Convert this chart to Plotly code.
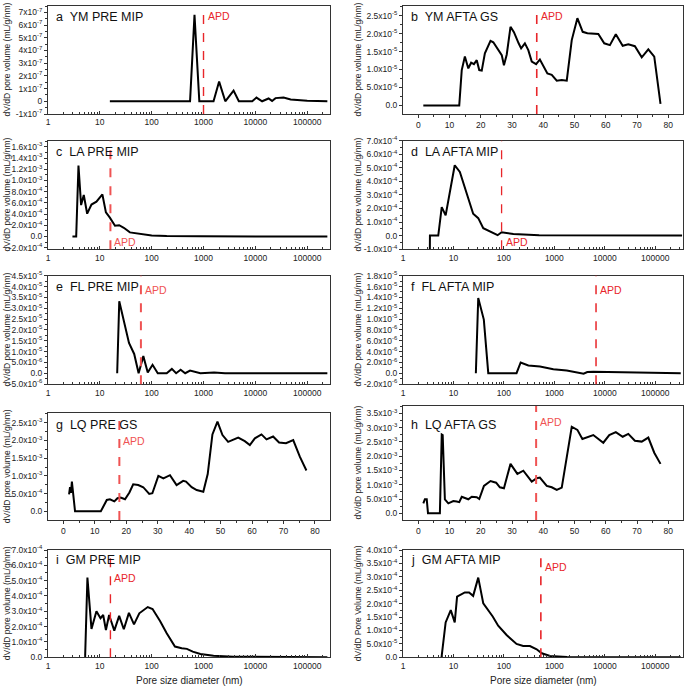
import re
import math
import plotly.graph_objects as go

# ---------------- data ----------------
titles = ["a\u00a0 YM PRE MIP", "b\u00a0 YM AFTA GS", "c\u00a0 LA PRE MIP", "d\u00a0 LA AFTA MIP",
          "e\u00a0 FL PRE MIP", "f\u00a0 FL AFTA MIP", "g\u00a0 LQ PRE GS", "h\u00a0 LQ AFTA GS",
          "i\u00a0 GM PRE MIP", "j\u00a0 GM AFTA MIP"]
ytitles = ["dV/dD pore volume (mL/g/nm)"] * 9 + ["dV/dD Pore Volume (mL/g/nm)"]
xtitle = "Pore size diameter (nm)"

a_x = [15.6, 550, 670, 830, 1560, 2000, 2630, 3800, 4800, 8700, 10500, 13500, 18000,
       21000, 24500, 35000, 48000, 100000, 245000]
a_y = [0, 0, 6.8e-7, 0, 0, 1.55e-7, 0, 0.84e-7, 0, 0, 0.29e-7, 0, 0.22e-7,
       0.03e-7, 0.25e-7, 0.3e-7, 0.15e-7, 0.05e-7, 0]

b_x = [1.6, 13.1, 13.9, 14.9, 16.0, 16.9, 17.8, 18.7, 19.5, 20.3, 21.3, 23.1, 24.0, 25.6,
       26.7, 27.4, 28.3, 29.5, 30.6, 32.1, 32.9, 34.1, 35.2, 36.3, 37.7, 38.9, 40.0, 41.3,
       42.7, 44.3, 45.9, 47.5, 49.1, 50.9, 52.6, 54.1, 57.6, 59.5, 61.3, 63.2, 65.4, 67.2,
       69.3, 71.5, 73.6, 75.5, 77.5]
b_y = [0, 0, 9.85e-6, 13.6e-6, 10.3e-6, 11.9e-6, 11.5e-6, 12.6e-6, 9.85e-6, 9.7e-6,
       14.5e-6, 18.0e-6, 17.6e-6, 15.4e-6, 14.0e-6, 11.2e-6, 14.2e-6, 21.9e-6, 20.4e-6,
       17.3e-6, 15.9e-6, 17.3e-6, 15.4e-6, 12.2e-6, 11.5e-6, 12.8e-6, 11.2e-6, 8.9e-6,
       8.5e-6, 6.9e-6, 7.1e-6, 6.9e-6, 18.2e-6, 24.3e-6, 20.5e-6, 20.1e-6, 19.9e-6,
       17.3e-6, 16.8e-6, 19.8e-6, 16.6e-6, 17.0e-6, 16.5e-6, 13.4e-6, 15.6e-6, 13.6e-6,
       0.4e-6]

c_x = [2.96, 3.5, 3.87, 4.35, 4.9, 5.7, 6.9, 8.6, 11.2, 13.1, 15.6, 19.6, 23.6, 29, 38,
       59, 100, 195, 870, 245000]
c_y = [0, 0, 12.66e-4, 5.6e-4, 7.4e-4, 4.06e-4, 5.7e-4, 6.2e-4, 7.5e-4, 4.3e-4, 3.35e-4,
       1.9e-4, 2.0e-4, 1.55e-4, 0.72e-4, 0.42e-4, 0.18e-4, 0.06e-4, 0.01e-4, 0]

d_x = [3.38, 3.42, 5.0, 5.86, 7.0, 10.6, 13.4, 24.6, 31, 39, 75, 90, 154, 500, 340000]
d_y = [-3e-4, 0, 0, 2.1e-4, 1.49e-4, 5.19e-4, 4.69e-4, 1.61e-4, 1.29e-4, 0.55e-4,
       0.03e-4, 0.25e-4, 0.12e-4, 0.03e-4, 0]

e_x = [21.6, 23.7, 36.5, 46, 56, 69, 84, 104, 131, 195, 245, 296, 362, 443, 550, 870,
       1600, 2600, 245000]
e_y = [0, 33.2e-6, 14e-6, 8.9e-6, 0, 7.9e-6, 0.3e-6, 3.9e-6, 0, 0, 2.0e-6, 0, 1.6e-6, 0,
       1.2e-6, 0, 0.3e-6, 0.05e-6, 0]

f_x = [27.8, 31, 40, 49, 178, 215, 305, 519, 955, 1760, 3800, 4500, 5900, 23000, 320000]
f_y = [0, 13.9e-6, 9.9e-6, 0, 0, 1.98e-6, 1.42e-6, 1.24e-6, 0.74e-6, 0.5e-6, -0.1e-6,
       0.2e-6, 0.25e-6, 0.12e-6, 0]

g_x = [1.8, 2.1, 2.4, 2.7, 3.7, 11.9, 13.8, 14.8, 16.2, 17.2, 18.2, 19.6, 21, 22.2, 23.8,
       25.4, 27.3, 28.3, 30.2, 31.8, 33.9, 36, 38.1, 39, 40.8, 42.4, 44.5, 45.9, 47.4, 49,
       50.6, 52.4, 55.6, 57.7, 59.3, 60.9, 63, 64.6, 66.7, 68.6, 70.8, 73.1, 75.2, 77.3]
g_y = [4.8e-4, 6.8e-4, 5.2e-4, 8.4e-4, 0, 0, 3.2e-4, 3.4e-4, 2.8e-4, 3.7e-4, 3.9e-4,
       3.4e-4, 5.3e-4, 7.6e-4, 7.4e-4, 6.8e-4, 4.9e-4, 5.1e-4, 10.0e-4, 9.3e-4, 10.2e-4,
       7.4e-4, 8.6e-4, 8.4e-4, 6.8e-4, 6.0e-4, 5.5e-4, 10.5e-4, 21.7e-4, 25.3e-4, 21.5e-4,
       19.6e-4, 20.8e-4, 19.8e-4, 18.7e-4, 20.6e-4, 21.7e-4, 20.3e-4, 21.1e-4, 19.4e-4,
       19.2e-4, 20.1e-4, 15.4e-4, 11.5e-4]

h_x = [1.6, 2.1, 2.7, 3.1, 6.9, 7.5, 7.8, 8.5, 9.6, 11.2, 12.3, 13.1, 13.9, 14.9, 16, 17.1,
       18.7, 19.5, 21, 23.1, 24.9, 26.1, 27.4, 29.5, 31.7, 33.6, 36.3, 37.9, 38.9, 41.1,
       42.7, 44.3, 45.9, 49.1, 50.9, 52.5, 56, 59.2, 61.1, 63.2, 65.4, 67.2, 69.3, 71.5,
       73.6, 75.5, 77.5]
h_y = [3.5e-4, 4.9e-4, 4.9e-4, 0, 0, 27.6e-4, 27.4e-4, 4.9e-4, 3.5e-4, 4.3e-4, 4.1e-4,
       3.9e-4, 5.8e-4, 5.3e-4, 4.9e-4, 5.8e-4, 5.6e-4, 5.0e-4, 9.6e-4, 11.3e-4, 10.7e-4,
       9.1e-4, 8.75e-4, 17.3e-4, 13.8e-4, 14.9e-4, 11.1e-4, 12.3e-4, 12.5e-4, 9.6e-4,
       9.1e-4, 8.2e-4, 9.0e-4, 30.3e-4, 29.2e-4, 26.0e-4, 27.4e-4, 24.7e-4, 27.4e-4,
       28.4e-4, 26.8e-4, 27.8e-4, 25.4e-4, 25.1e-4, 26.5e-4, 21.2e-4, 17.3e-4]

i_x = [5.0, 5.2, 5.76, 6.9, 8.6, 10.3, 11.6, 13.1, 15.1, 19, 23.6, 29, 36.4, 45.6, 57.7,
       84, 104, 145, 195, 281, 380, 478, 620, 870, 1560, 3800, 245000]
i_y = [0, 0, 5.2e-4, 1.85e-4, 3.0e-4, 2.55e-4, 2.76e-4, 1.78e-4, 2.76e-4, 1.74e-4, 2.7e-4,
       1.83e-4, 2.9e-4, 2.15e-4, 2.87e-4, 3.28e-4, 3.15e-4, 2.37e-4, 1.57e-4, 0.7e-4,
       0.59e-4, 0.55e-4, 0.37e-4, 0.22e-4, 0.1e-4, 0.04e-4, 0]

j_x = [5.8, 7.0, 8.85, 10.6, 11.8, 16.8, 20.4, 24.6, 31, 39, 60, 77, 113, 178, 241, 328,
       446, 562, 820, 1780, 320000]
j_y = [0, 13.0e-5, 17.6e-5, 13.0e-5, 22.6e-5, 24.2e-5, 24.2e-5, 22.9e-5, 29.7e-5, 20.1e-5,
       15.2e-5, 11.8e-5, 8.3e-5, 5.0e-5, 4.2e-5, 4.2e-5, 3.0e-5, 1.5e-5, 0.5e-5, 0.12e-5, 0]

apd = [1000, 37.9, 16, 90, 62, 6700, 17.8, 37.7, 16, 540]

log_ticks = [1, 10, 100, 1000, 10000, 100000]
log_ticktext = ["1", "10", "100", "1000", "10000", "100000"]
lin_ticks = [0, 10, 20, 30, 40, 50, 60, 70, 80]
lin_ticktext = ["0", "10", "20", "30", "40", "50", "60", "70", "80"]

y_ticks = [
    [-1e-7, 0, 1e-7, 2e-7, 3e-7, 4e-7, 5e-7, 6e-7, 7e-7],
    [0, 5e-6, 1e-5, 1.5e-5, 2e-5, 2.5e-5],
    [-2e-4, 0, 2e-4, 4e-4, 6e-4, 8e-4, 1e-3, 1.2e-3, 1.4e-3, 1.6e-3],
    [-1e-4, 0, 1e-4, 2e-4, 3e-4, 4e-4, 5e-4, 6e-4, 7e-4],
    [-5e-6, 0, 5e-6, 1e-5, 1.5e-5, 2e-5, 2.5e-5, 3e-5, 3.5e-5, 4e-5, 4.5e-5],
    [-2e-6, 0, 2e-6, 4e-6, 6e-6, 8e-6, 1e-5, 1.2e-5, 1.4e-5, 1.6e-5, 1.8e-5],
    [0, 5e-4, 1e-3, 1.5e-3, 2e-3, 2.5e-3],
    [0, 5e-4, 1e-3, 1.5e-3, 2e-3, 2.5e-3, 3e-3, 3.5e-3],
    [0, 1e-4, 2e-4, 3e-4, 4e-4, 5e-4, 6e-4, 7e-4],
    [0, 5e-5, 1e-4, 1.5e-4, 2e-4, 2.5e-4, 3e-4, 3.5e-4, 4e-4],
]
y_ticktext = [
    ["-1x10^-7", "0", "1x10^-7", "2x10^-7", "3x10^-7", "4x10^-7", "5x10^-7", "6x10^-7", "7x10^-7"],
    ["0.0", "5.0x10^-6", "1.0x10^-5", "1.5x10^-5", "2.0x10^-5", "2.5x10^-5"],
    ["-2.0x10^-4", "0.0", "2.0x10^-4", "4.0x10^-4", "6.0x10^-4", "8.0x10^-4", "1.0x10^-3",
     "1.2x10^-3", "1.4x10^-3", "1.6x10^-3"],
    ["-1.0x10^-4", "0.0", "1.0x10^-4", "2.0x10^-4", "3.0x10^-4", "4.0x10^-4", "5.0x10^-4",
     "6.0x10^-4", "7.0x10^-4"],
    ["-5.0x10^-6", "0.0", "5.0x10^-6", "1.0x10^-5", "1.5x10^-5", "2.0x10^-5", "2.5x10^-5",
     "3.0x10^-5", "3.5x10^-5", "4.0x10^-5", "4.5x10^-5"],
    ["-2.0x10^-6", "0.0", "2.0x10^-6", "4.0x10^-6", "6.0x10^-6", "8.0x10^-6", "1.0x10^-5",
     "1.2x10^-5", "1.4x10^-5", "1.6x10^-5", "1.8x10^-5"],
    ["0.0", "5.0x10^-4", "1.0x10^-3", "1.5x10^-3", "2.0x10^-3", "2.5x10^-3"],
    ["0.0", "5.0x10^-4", "1.0x10^-3", "1.5x10^-3", "2.0x10^-3", "2.5x10^-3", "3.0x10^-3",
     "3.5x10^-3"],
    ["0.0", "1.0x10^-4", "2.0x10^-4", "3.0x10^-4", "4.0x10^-4", "5.0x10^-4", "6.0x10^-4",
     "7.0x10^-4"],
    ["0.0", "5.0x10^-5", "1.0x10^-4", "1.5x10^-4", "2.0x10^-4", "2.5x10^-4", "3.0x10^-4",
     "3.5x10^-4", "4.0x10^-4"],
]

# ---------------- layout geometry ----------------
W, H = 685, 686
xs = [a_x, b_x, c_x, d_x, e_x, f_x, g_x, h_x, i_x, j_x]
ys = [a_y, b_y, c_y, d_y, e_y, f_y, g_y, h_y, i_y, j_y]
is_log = [True, False, True, True, True, True, False, False, True, True]

col_px = [(48, 330), (403, 683)]
row_px = [[(6, 114), (6, 114)], [(140.7, 249.3), (140.7, 249.3)],
          [(275.7, 384.3), (275.7, 384.3)], [(413.3, 520), (406, 520)],
          [(550, 657.3), (550, 657.3)]]
x_ranges = [[0, 5.44], [-4.9, 84.7], [0, 5.44], [0, 5.55], [0, 5.44], [0, 5.55],
            [-4.9, 84.8], [-4.9, 84.7], [0, 5.44], [0, 5.55]]
y_ranges = [[-1e-7, 7.5e-7], [-2.4e-6, 2.77e-5], [-2.3e-4, 1.71e-3], [-1.01e-4, 7e-4],
            [-5.1e-6, 4.5e-5], [-2.05e-6, 1.8e-5], [-2.45e-4, 2.765e-3],
            [-2.35e-4, 3.756e-3], [0, 7e-4], [0, 4e-4]]
label_y = [0.898, 0.898, 0.896, 0.896, 0.896, 0.896, 0.89, 0.833, 0.907, 0.907]
apd_y = [0.907, 0.907, 0.07, 0.07, 0.868, 0.868, 0.743, 0.862, 0.736, 0.844]
apd_col = ["#e8262a", "#e8262a", "#ef5353", "#e8262a", "#ef5353", "#e8262a",
           "#ef5353", "#ef5353", "#e8262a", "#e8262a"]
apd_w = [1.4, 1.6, 2.0, 1.3, 2.0, 1.5, 2.0, 2.0, 1.4, 1.6]

FONT = "Liberation Sans, Arial, sans-serif"


def sup(s):
    return re.sub(r"\^(-?\d+)", r"<sup>\1</sup>", s)


fig = go.Figure()
layout = {}
annotations = []
shapes = []
for k in range(10):
    r, c = divmod(k, 2)
    xa = "xaxis" if k == 0 else f"xaxis{k+1}"
    ya = "yaxis" if k == 0 else f"yaxis{k+1}"
    xr = "x" if k == 0 else f"x{k+1}"
    yr = "y" if k == 0 else f"y{k+1}"
    x0, x1 = col_px[c]
    t, b = row_px[r][c]
    fig.add_trace(go.Scatter(x=xs[k], y=ys[k], mode="lines", xaxis=xr, yaxis=yr,
                             line=dict(color="black", width=2), showlegend=False,
                             hoverinfo="skip"))
    common = dict(showline=True, linecolor="#333", linewidth=1, mirror=True,
                  showgrid=False, zeroline=False, automargin=False,
                  tickfont=dict(family=FONT, size=8.5, color="#222"),
                  ticklen=3, tickcolor="#333")
    if is_log[k]:
        layout[xa] = dict(common, type="log", range=x_ranges[k], domain=[x0 / W, x1 / W],
                          anchor=yr, tickmode="array", tickvals=log_ticks,
                          ticktext=log_ticktext, ticks="inside",
                          minor=dict(ticks="inside", ticklen=2, dtick="D1",
                                     tickcolor="#333", showgrid=False))
    else:
        layout[xa] = dict(common, type="linear", range=x_ranges[k],
                          domain=[x0 / W, x1 / W], anchor=yr, tickmode="array",
                          tickvals=lin_ticks, ticktext=lin_ticktext, ticks="outside",
                          minor=dict(ticks="outside", ticklen=2, tick0=0, dtick=5,
                                     tickcolor="#333", showgrid=False))
    yt = y_ticks[k]
    step = yt[2] - yt[1]
    layout[ya] = dict(common, range=y_ranges[k], domain=[1 - b / H, 1 - t / H],
                      anchor=xr, tickmode="array", tickvals=yt,
                      ticktext=[sup(s) for s in y_ticktext[k]], ticks="outside",
                      minor=dict(ticks="outside", ticklen=2, tick0=0, dtick=step / 2,
                                 tickcolor="#333", showgrid=False))
    # APD line
    shapes.append(dict(type="line", xref=xr, yref=f"{yr} domain", x0=apd[k], x1=apd[k],
                       y0=0, y1=1, line=dict(color=apd_col[k], width=apd_w[k], dash="dash")))
    ax_pos = math.log10(apd[k]) if is_log[k] else apd[k]
    annotations.append(dict(text="APD", xref=xr, yref=f"{yr} domain", x=ax_pos,
                            y=apd_y[k], xanchor="left", yanchor="middle", xshift=2,
                            showarrow=False,
                            font=dict(family=FONT, size=10.5, color=apd_col[k])))
    # panel label
    annotations.append(dict(text=titles[k], xref=f"{xr} domain", yref=f"{yr} domain",
                            x=0.02, y=label_y[k], xanchor="left", yanchor="middle",
                            showarrow=False,
                            font=dict(family=FONT, size=12.5, color="#111")))
    # y-axis title
    annotations.append(dict(text=ytitles[k], xref="paper", yref="paper",
                            x=(6.5 if c == 0 else 357.5) / W,
                            y=1 - (t + b) / 2 / H, xanchor="center", yanchor="middle",
                            textangle=-90, showarrow=False,
                            font=dict(family=FONT, size=8.5, color="#222")))
    if r == 4:
        annotations.append(dict(text=xtitle, xref="paper", yref="paper",
                                x=(x0 + x1) / 2 / W, y=1 - 680 / H, xanchor="center",
                                yanchor="middle", showarrow=False,
                                font=dict(family=FONT, size=10, color="#222")))

fig.update_layout(**layout)
fig.update_layout(width=W, height=H, margin=dict(l=0, r=0, t=0, b=0, autoexpand=False),
                  paper_bgcolor="white", plot_bgcolor="white",
                  annotations=annotations, shapes=shapes, showlegend=False,
                  font=dict(family=FONT))
fig.write_html("out.html", config={"displayModeBar": False},
               post_script="document.body.style.margin='0';"
                           "document.body.style.overflow='hidden';")
